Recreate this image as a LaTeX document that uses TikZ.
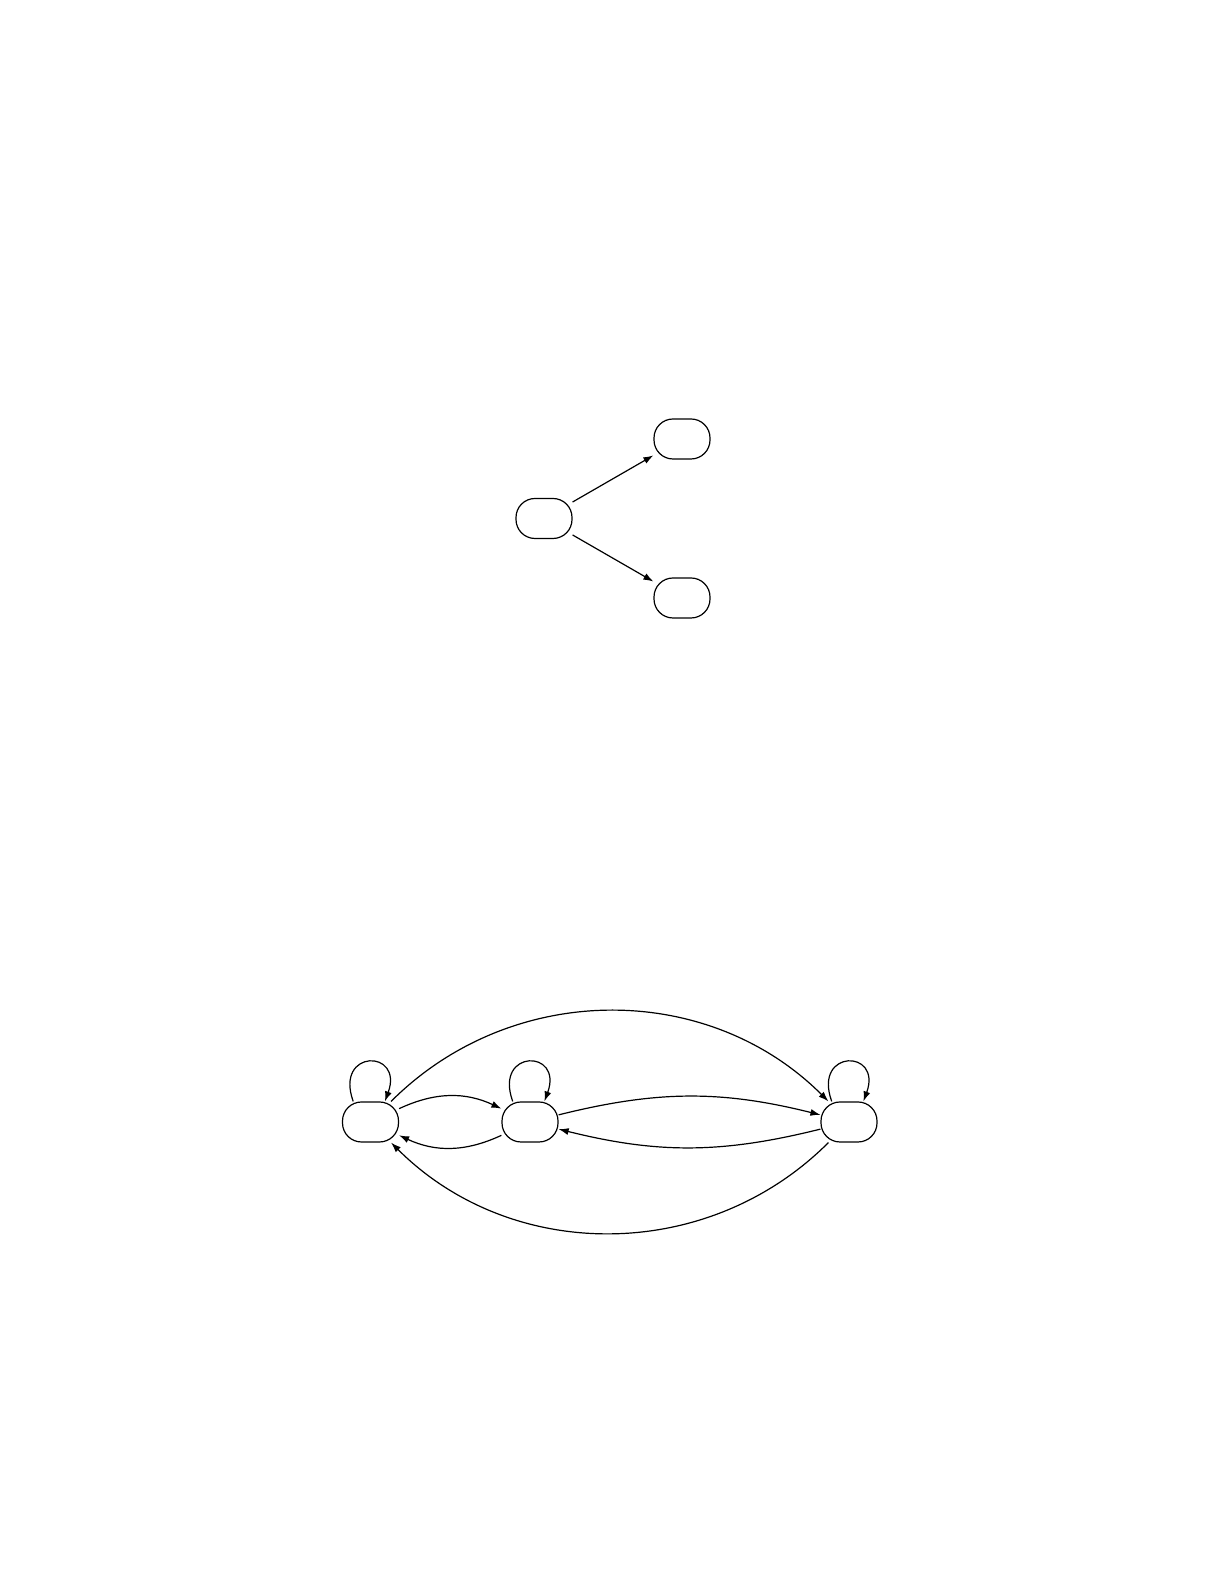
\documentclass[tikz,border=0pt]{standalone}
\usetikzlibrary{arrows.meta}
\begin{document}
\begin{tikzpicture}[x=1pt,y=1pt,
    state/.style={draw, semithick, rounded corners=9.5pt, minimum width=28pt, minimum height=20pt, inner sep=0pt},
    link/.style={-{Latex[length=5pt,width=3.5pt]}, semithick}]
  \useasboundingbox (0,0) rectangle (612.5,792.5);
  % upper graph
  \node[state] (a) at (272,533.25) {};
  \node[state] (b) at (341,573) {};
  \node[state] (c) at (341,493.5) {};
  \draw[link] (a) -- (b);
  \draw[link] (a) -- (c);

  % lower graph
  \node[state] (s1) at (185.25,231.5) {};
  \node[state] (s2) at (265,231.5) {};
  \node[state] (s3) at (424.5,231.5) {};
  \foreach \s in {s1,s2,s3}
    \draw[link] (\s.130) to[out=110,in=70,distance=28pt] (\s.55);
  \draw[link] (s1) to[bend left=25] (s2);
  \draw[link] (s2) to[bend left=25] (s1);
  \draw[link] (s2) to[bend left=14] (s3);
  \draw[link] (s3) to[bend left=14] (s2);
  \draw[link] (s1) to[bend left=45] (s3);
  \draw[link] (s3) to[bend left=45] (s1);
\end{tikzpicture}
\end{document}
